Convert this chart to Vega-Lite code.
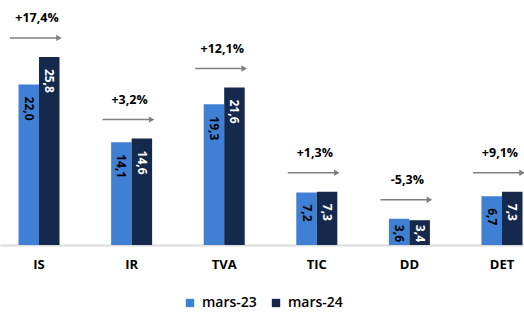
{
  "$schema": "https://vega.github.io/schema/vega-lite/v6.json",
  "width": 524,
  "height": 245,
  "autosize": {"type": "none"},
  "padding": {"left": 0, "top": 0, "right": 0, "bottom": 68},
  "background": "white",
  "config": {
    "view": {"stroke": null},
    "font": "Open Sans",
    "locale": {"number": {"decimal": ",", "thousands": " ", "grouping": [3], "currency": ["", " €"], "minus": "-"}}
  },
  "data": {
    "values": [
      {"cat": "IS", "series": "mars-23", "value": 22.0, "change": 0.174},
      {"cat": "IS", "series": "mars-24", "value": 25.8, "change": 0.174},
      {"cat": "IR", "series": "mars-23", "value": 14.1, "change": 0.032},
      {"cat": "IR", "series": "mars-24", "value": 14.6, "change": 0.032},
      {"cat": "TVA", "series": "mars-23", "value": 19.3, "change": 0.121},
      {"cat": "TVA", "series": "mars-24", "value": 21.6, "change": 0.121},
      {"cat": "TIC", "series": "mars-23", "value": 7.2, "change": 0.013},
      {"cat": "TIC", "series": "mars-24", "value": 7.3, "change": 0.013},
      {"cat": "DD", "series": "mars-23", "value": 3.6, "change": -0.053},
      {"cat": "DD", "series": "mars-24", "value": 3.4, "change": -0.053},
      {"cat": "DET", "series": "mars-23", "value": 6.7, "change": 0.091},
      {"cat": "DET", "series": "mars-24", "value": 7.3, "change": 0.091}
    ]
  },
  "encoding": {
    "x": {
      "field": "cat",
      "type": "nominal",
      "sort": ["IS", "IR", "TVA", "TIC", "DD", "DET"],
      "scale": {"paddingInner": 0.557, "paddingOuter": 0.108, "align": 0.925},
      "axis": {
        "title": null,
        "ticks": false,
        "labelAngle": 0,
        "labelFontSize": 13,
        "labelFontWeight": "bold",
        "labelColor": "#000000",
        "labelPadding": 13,
        "domainColor": "#dcdcdc",
        "domainWidth": 2,
        "grid": false
      }
    }
  },
  "layer": [
    {
      "mark": {"type": "bar"},
      "encoding": {
        "xOffset": {"field": "series", "type": "nominal", "scale": {"paddingInner": 0, "paddingOuter": 0}},
        "y": {"field": "value", "type": "quantitative", "scale": {"domain": [0, 33.6], "nice": false, "zero": true}, "axis": null},
        "color": {
          "field": "series",
          "type": "nominal",
          "scale": {"domain": ["mars-23", "mars-24"], "range": ["#3f80d5", "#14294b"]},
          "legend": {
            "title": null,
            "orient": "none",
            "legendX": 183,
            "legendY": 296,
            "direction": "horizontal",
            "symbolType": "square",
            "symbolSize": 70,
            "symbolStrokeWidth": 0,
            "labelFontSize": 14,
            "labelFontWeight": 600,
            "labelColor": "#000000",
            "columnPadding": 12,
            "labelOffset": 5
          }
        }
      }
    },
    {
      "transform": [{"filter": "datum.value >= 5"}],
      "mark": {"type": "text", "angle": 90, "align": "left", "baseline": "middle", "dx": 12, "fontSize": 12, "fontWeight": "bold"},
      "encoding": {
        "xOffset": {"field": "series", "type": "nominal"},
        "y": {"field": "value", "type": "quantitative"},
        "text": {"field": "value", "type": "quantitative", "format": ".1f"},
        "color": {
          "condition": {"test": "datum.series === 'mars-24'", "value": "#ffffff"},
          "value": "#000000"
        }
      }
    },
    {
      "transform": [{"filter": "datum.value < 5"}],
      "mark": {"type": "text", "angle": 90, "align": "right", "baseline": "middle", "dx": -3, "fontSize": 12, "fontWeight": "bold"},
      "encoding": {
        "xOffset": {"field": "series", "type": "nominal"},
        "y": {"datum": 0, "type": "quantitative"},
        "text": {"field": "value", "type": "quantitative", "format": ".1f"},
        "color": {
          "condition": {"test": "datum.series === 'mars-24'", "value": "#ffffff"},
          "value": "#000000"
        }
      }
    },
    {
      "transform": [{"aggregate": [{"op": "max", "field": "value", "as": "top"}], "groupby": ["cat", "change"]}],
      "layer": [
        {
          "mark": {"type": "rule", "color": "#7f7f7f", "strokeWidth": 1.5, "xOffset": -29, "x2Offset": 18, "yOffset": -19},
          "encoding": {
            "x": {"field": "cat", "type": "nominal", "bandPosition": 0.5},
            "x2": {"field": "cat", "bandPosition": 0.5},
            "y": {"field": "top", "type": "quantitative"}
          }
        },
        {
          "mark": {"type": "point", "shape": "triangle-right", "filled": true, "color": "#7f7f7f", "size": 40, "opacity": 1, "xOffset": 20, "yOffset": -19},
          "encoding": {
            "x": {"field": "cat", "type": "nominal", "bandPosition": 0.5},
            "y": {"field": "top", "type": "quantitative"}
          }
        },
        {
          "mark": {"type": "text", "fontSize": 12.5, "fontWeight": "bold", "color": "#000000", "yOffset": -39, "dx": -2, "baseline": "middle"},
          "encoding": {
            "x": {"field": "cat", "type": "nominal", "bandPosition": 0.5},
            "y": {"field": "top", "type": "quantitative"},
            "text": {"field": "change", "type": "quantitative", "format": "+.1%"}
          }
        }
      ]
    }
  ]
}
